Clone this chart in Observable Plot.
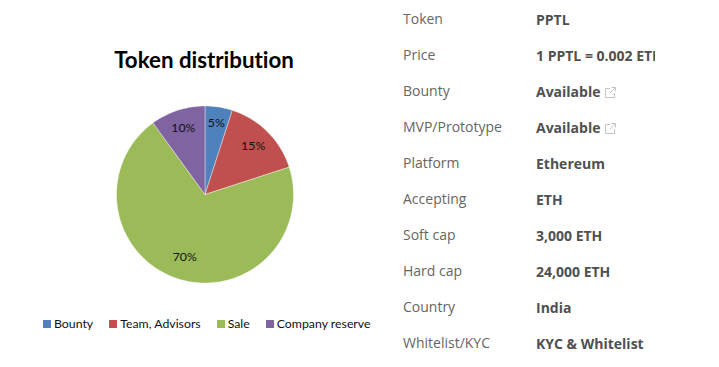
<!DOCTYPE html>
<html>
<head>
<meta charset="utf-8">
<script src="https://cdn.jsdelivr.net/npm/d3@7"></script>
<script src="https://cdn.jsdelivr.net/npm/@observablehq/plot@0.6"></script>
<style>
html,body{margin:0;padding:0;background:#fff;}
#stage{position:relative;width:719px;height:367px;overflow:hidden;}
#pie{position:absolute;left:0;top:0;}
#title{position:absolute;left:0;width:408px;top:45px;text-align:center;font:700 22.3px Lato,sans-serif;font-variant-ligatures:none;color:#000;line-height:30px;}
#legend{position:absolute;left:43px;top:316px;white-space:nowrap;}
.lg-swatches,.lg-swatches-wrap{display:flex;align-items:center;min-height:16px !important;margin:0 !important;font:12.3px/16px Lato,sans-serif !important;font-variant-ligatures:none;color:#111;}
.lg-swatch{display:inline-flex;align-items:center;margin-right:16px !important;}
.lg-swatch svg{margin-right:3px !important;}
#table{position:absolute;left:0;top:0;}
.label,.value{position:absolute;font-family:"Open Sans",sans-serif;font-size:14px;line-height:20px;white-space:nowrap;}
.label{left:403px;color:#666;}
.value{left:536px;width:119px;overflow:hidden;font-weight:700;color:#505050;}
.ext{display:inline-block;vertical-align:-1px;margin-left:5px;}
</style>
</head>
<body>
<div id="stage">
  <div id="pie"></div>
  <div id="title"></div>
  <div id="legend"></div>
  <div id="table"></div>
</div>
<script>
const chartTitle = "Token distribution";
const categories = ["Bounty", "Team, Advisors", "Sale", "Company reserve"];
const shares = [5, 15, 70, 10];
const sliceColors = ["#4F81BD", "#C0504D", "#9BBB59", "#8064A2"];
const labelReach = [0.82, 0.77, 0.74, 0.79];

const rowLabels = ["Token", "Price", "Bounty", "MVP/Prototype", "Platform", "Accepting", "Soft cap", "Hard cap", "Country", "Whitelist/KYC"];
const rowValues = ["PPTL", "1 PPTL = 0.002 ETH", "Available", "Available", "Ethereum", "ETH", "3,000 ETH", "24,000 ETH", "India", "KYC & Whitelist"];
const rowLinked = [false, false, true, true, false, false, false, false, false, false];

// Slice outlines on a unit circle, starting at 12 o'clock and going clockwise
const total = d3.sum(shares);
const starts = d3.cumsum([0, ...shares]);
const outline = categories.flatMap((name, i) => {
  const a0 = starts[i] / total * 2 * Math.PI, a1 = starts[i + 1] / total * 2 * Math.PI;
  const n = Math.ceil(shares[i] * 2);
  const arc = d3.range(n + 1).map(k => {
    const a = a0 + (a1 - a0) * k / n;
    return {name, x: Math.sin(a), y: Math.cos(a)};
  });
  return [{name, x: 0, y: 0}, ...arc, {name, x: 0, y: 0}];
});
const labels = categories.map((name, i) => {
  const a = (starts[i] + shares[i] / 2) / total * 2 * Math.PI;
  return {text: shares[i] + "%", x: labelReach[i] * Math.sin(a), y: labelReach[i] * Math.cos(a)};
});

const cx = 204.5, cy = 194, r = 88.5;
const colorScale = {domain: categories, range: sliceColors};
const plot = Plot.plot({
  width: 400, height: 367, margin: 0,
  style: {background: "transparent"},
  x: {domain: [-1, 1], range: [cx - r, cx + r], axis: null},
  y: {domain: [-1, 1], range: [cy + r, cy - r], axis: null},
  color: colorScale,
  marks: [
    Plot.line(outline, {x: "x", y: "y", z: "name", fill: "name", stroke: "#fff", strokeOpacity: 0.55, strokeWidth: 0.7, strokeLinejoin: "round"}),
    Plot.text(labels, {x: "x", y: "y", text: "text", fill: "#111", fontFamily: "Lato, sans-serif", fontSize: 12.3})
  ]
});
document.getElementById("pie").append(plot);
document.getElementById("title").textContent = chartTitle;
document.getElementById("legend").append(plot.legend("color", {swatchSize: 8, className: "lg"}));

const extIcon = '<svg class="ext" width="11" height="11" viewBox="0 0 11 11" fill="none" stroke="#c4c4c4" stroke-width="1"><path d="M5 1.5H.5v9h9V6"/><path d="M6.5.5h4v4M10.5.5 5 6"/></svg>';
const table = document.getElementById("table");
rowLabels.forEach((lab, i) => {
  const l = document.createElement("div");
  l.className = "label";
  l.style.top = (9 + 36 * i) + "px";
  l.textContent = lab;
  const v = document.createElement("div");
  v.className = "value";
  v.style.top = (10 + 36 * i + (i > 2 ? 0.4 : 0)) + "px";
  v.textContent = rowValues[i];
  if (rowLinked[i]) v.insertAdjacentHTML("beforeend", extIcon);
  table.append(l, v);
});
</script>
</body>
</html>
